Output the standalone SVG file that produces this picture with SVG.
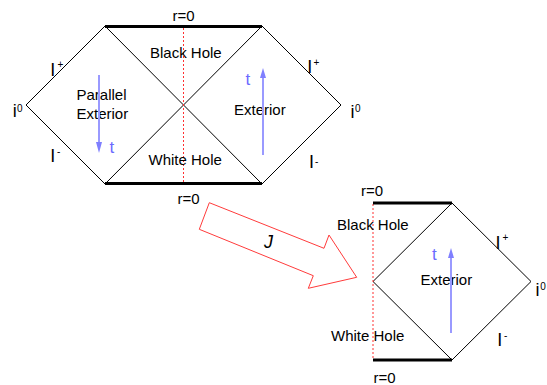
<svg xmlns="http://www.w3.org/2000/svg" width="547" height="385" viewBox="0 0 547 385">
<style>
.thin{stroke:#000;stroke-width:1;fill:none}
.thick{stroke:#000;stroke-width:3;fill:none}
.dot{stroke:#ff3030;stroke-width:1;stroke-dasharray:2 2;fill:none}
.lbl{font-family:"Liberation Sans",Arial,sans-serif;font-size:15px;fill:#000}
.big{font-family:"Liberation Sans",Arial,sans-serif;font-size:18px;fill:#000}
.sup{font-family:"Liberation Sans",Arial,sans-serif;font-size:10px;fill:#000}
.tl{font-family:"Liberation Sans",Arial,sans-serif;font-size:17px;fill:#6b6bff}
.ta{stroke:#9a9aff;stroke-width:2;fill:none}
.th{fill:#7f7fff;stroke:none}
</style>
<rect width="547" height="385" fill="#fff"/>
<g id="full-diagram">
<line class="thin" x1="26" y1="105" x2="105" y2="26"/>
<line class="thin" x1="26" y1="105" x2="105" y2="184"/>
<line class="thin" x1="105" y1="26" x2="262" y2="184"/>
<line class="thin" x1="105" y1="184" x2="262" y2="26"/>
<line class="thin" x1="262" y1="26" x2="341" y2="105"/>
<line class="thin" x1="262" y1="184" x2="341" y2="105"/>
<line class="dot" x1="183.5" y1="28" x2="183.5" y2="183"/>
<line class="thick" x1="105" y1="26.5" x2="262" y2="26.5"/>
<line class="thick" x1="105" y1="183.5" x2="262" y2="183.5"/>
<text class="lbl" x="172.5" y="20.5">r=0</text>
<text class="lbl" x="177.5" y="204">r=0</text>
<text class="lbl" x="150" y="58">Black Hole</text>
<text class="lbl" x="148.5" y="165">White Hole</text>
<text class="lbl" x="76.5" y="100">Parallel</text>
<text class="lbl" x="76.5" y="119">Exterior</text>
<text class="lbl" x="234" y="115">Exterior</text>
<line class="ta" x1="99" y1="75" x2="99" y2="144"/>
<polygon class="th" points="96,142 102,142 99,153"/>
<text class="tl" x="109.5" y="153">t</text>
<line class="ta" x1="263" y1="155" x2="263" y2="77"/>
<polygon class="th" points="260,78 266,78 263,68"/>
<text class="tl" x="245.5" y="85">t</text>
<text class="big" x="50.3" y="76">I</text>
<text class="sup" x="57.5" y="68">+</text>
<text class="big" x="50.3" y="162">I</text>
<text class="sup" x="57" y="155">-</text>
<text class="big" x="12.8" y="117">i</text>
<text class="sup" x="17" y="112">0</text>
<text class="big" x="307.3" y="73">I</text>
<text class="sup" x="313.5" y="65.5">+</text>
<text class="big" x="309" y="168">I</text>
<text class="sup" x="315" y="164.5">-</text>
<text class="big" x="350.5" y="118">i</text>
<text class="sup" x="355" y="112">0</text>
</g>
<g id="connectors">
<polygon points="209.3,202.7 324,248.3 329,235 356.7,277.3 308.3,288.3 313.3,275.7 199.3,229.3" fill="#fff" stroke="#ff3b3b" stroke-width="1"/>
<text class="big" x="264" y="248" font-style="italic">J</text>
</g>
<g id="reduced-diagram">
<line class="thin" x1="373" y1="281.5" x2="452" y2="203"/>
<line class="thin" x1="373" y1="281.5" x2="452" y2="360"/>
<line class="thin" x1="452" y1="203" x2="531" y2="281.5"/>
<line class="thin" x1="452" y1="360" x2="531" y2="281.5"/>
<line class="dot" x1="373" y1="204" x2="373" y2="360"/>
<line class="thick" x1="373" y1="203" x2="452" y2="203"/>
<line class="thick" x1="373" y1="360" x2="452" y2="360"/>
<text class="lbl" x="361" y="196">r=0</text>
<text class="lbl" x="373.5" y="383">r=0</text>
<text class="lbl" x="337" y="230">Black Hole</text>
<text class="lbl" x="331" y="341">White Hole</text>
<text class="lbl" x="420.5" y="285">Exterior</text>
<line class="ta" x1="451" y1="333" x2="451" y2="257"/>
<polygon class="th" points="448,258 454,258 451,248"/>
<text class="tl" x="432" y="260">t</text>
<text class="big" x="495.6" y="249">I</text>
<text class="sup" x="502.5" y="241">+</text>
<text class="big" x="497.3" y="346">I</text>
<text class="sup" x="504" y="339">-</text>
<text class="big" x="535.5" y="296">i</text>
<text class="sup" x="540.3" y="290">0</text>
</g>
</svg>
